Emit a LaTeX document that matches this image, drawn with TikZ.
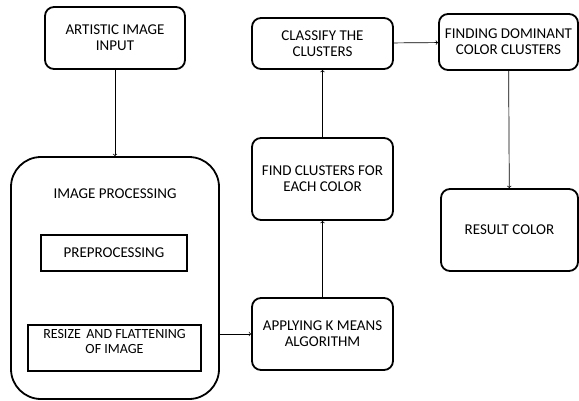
\documentclass[tikz,border=0pt]{standalone}
\usepackage{fontspec}
\setmainfont{Carlito}
\usetikzlibrary{arrows, shapes}
\tikzstyle{stepbox} = [rectangle, rounded corners=9pt, line width=1.8pt, draw=black, align=center, font=\fontsize{15}{16}\selectfont]
\tikzstyle{group} = [rectangle, rounded corners=30pt, line width=1.8pt, draw=black]
\tikzstyle{inner} = [rectangle, line width=1.8pt, draw=black]
\tikzstyle{caption} = [align=center, font=\fontsize{15}{16}\selectfont]
\tikzstyle{arrow} = [line width=0.7pt, ->, >=to]

\begin{document}
\begin{tikzpicture}[x=1pt, y=-1pt]
\useasboundingbox (0,0) rectangle (579,400);

\node at (115, 38) (input) [stepbox, minimum width=140pt, minimum height=62pt] {ARTISTIC IMAGE\\INPUT};
\node at (115, 278) (improc) [group, minimum width=208pt, minimum height=242pt] {};
\node at (115, 194) (improctitle) [caption] {IMAGE PROCESSING};
\node at (114, 253) (preproc) [inner, minimum width=146pt, minimum height=36pt, caption] {PREPROCESSING};
\node at (114.5, 348) (resize) [inner, minimum width=173pt, minimum height=46pt] {};
\node at (114.5, 341.5) (resizetext) [caption, font=\fontsize{14}{15.5}\selectfont] {RESIZE \,AND FLATTENING\\OF IMAGE};
\node at (322.5, 334) (kmeans) [stepbox, minimum width=141pt, minimum height=72pt] {APPLYING K MEANS\\ALGORITHM};
\node at (322.5, 179) (find) [stepbox, minimum width=141pt, minimum height=82pt] {FIND CLUSTERS FOR\\EACH COLOR};
\node at (322.5, 43.5) (classify) [stepbox, minimum width=141pt, minimum height=51pt] {CLASSIFY THE\\CLUSTERS};
\node at (508.5, 42) (dominant) [stepbox, minimum width=139pt, minimum height=56pt] {FINDING DOMINANT\\COLOR CLUSTERS};
\node at (509.5, 230) (result) [stepbox, minimum width=137pt, minimum height=82pt] {RESULT COLOR};

\draw [arrow] (input) -- (improc);
\draw [arrow] (kmeans.west -| improc.east) -- (kmeans);
\draw [arrow] (kmeans) -- (find);
\draw [arrow] (find) -- (classify);
\draw [arrow] (classify) -- (dominant);
\draw [arrow] (dominant) -- (result);

\end{tikzpicture}
\end{document}
